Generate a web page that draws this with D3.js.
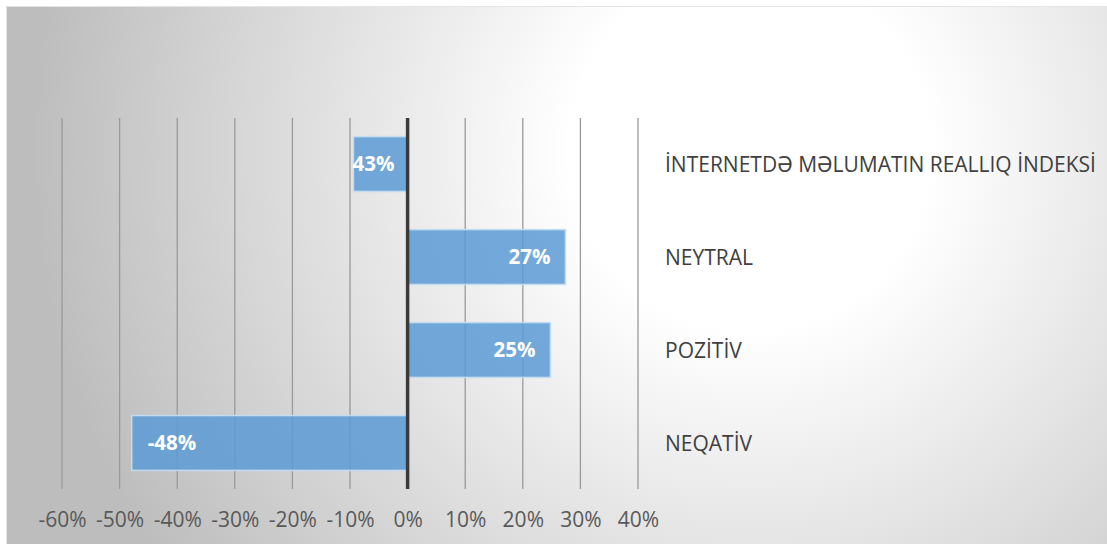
<!DOCTYPE html>
<html><head><meta charset="utf-8">
<script src="https://cdn.jsdelivr.net/npm/d3@7"></script>
<style>body{margin:0;background:#fff}svg{display:block}</style>
</head><body>
<script>
const categories = ["İNTERNETDƏ MƏLUMATIN REALLIQ İNDEKSİ", "NEYTRAL", "POZİTİV", "NEQATİV"];
const values = [-9.4, 27.4, 24.8, -47.9];
const valueLabels = ["43%", "27%", "25%", "-48%"];
const ticks = [-60, -50, -40, -30, -20, -10, 0, 10, 20, 30, 40];

const W = 1107, H = 544;
const svg = d3.select("body").append("svg").attr("width", W).attr("height", H);
const defs = svg.append("defs");
const rg = defs.append("radialGradient").attr("id", "bg").attr("gradientUnits", "userSpaceOnUse")
  .attr("cx", 750).attr("cy", 150).attr("r", 720);
rg.append("stop").attr("offset", 0).attr("stop-color", "#ffffff");
rg.append("stop").attr("offset", 0.25).attr("stop-color", "#ffffff");
rg.append("stop").attr("offset", 1).attr("stop-color", "#bdbdbd");

svg.append("rect").attr("x", 6).attr("y", 6).attr("width", W - 6).attr("height", H - 6).attr("fill", "url(#bg)");
svg.append("path").attr("d", `M6.5,${H} V6.5 H${W}`).attr("fill", "none").attr("stroke", "#e4e4e4").attr("stroke-width", 1);

const x = d3.scaleLinear().domain([-60, 40]).range([62, 638]);
const y = d3.scaleBand().domain(categories).range([118, 489]).paddingInner(0.41).paddingOuter(0.2);

// gridlines
svg.append("g").selectAll("line").data(ticks.filter(t => t !== 0)).join("line")
  .attr("x1", d => x(d)).attr("x2", d => x(d)).attr("y1", 118).attr("y2", 489)
  .attr("stroke", "#9a9a9a").attr("stroke-width", 1.3);

// bars
svg.append("g").selectAll("rect").data(categories).join("rect")
  .attr("x", (d, i) => Math.min(x(0), x(values[i])))
  .attr("width", (d, i) => Math.abs(x(values[i]) - x(0)))
  .attr("y", d => y(d)).attr("height", y.bandwidth())
  .attr("fill", "#5b9bd5").attr("fill-opacity", 0.85)
  .attr("stroke", "#c5dcf0").attr("stroke-width", 1.5);

// zero axis
svg.append("line").attr("x1", x(0)).attr("x2", x(0)).attr("y1", 118).attr("y2", 489)
  .attr("stroke", "#3a3a3a").attr("stroke-width", 3.5);

// value labels
const font = "'Open Sans', 'Noto Sans', sans-serif";
svg.append("g").selectAll("text").data(categories).join("text")
  .attr("x", (d, i) => values[i] < 0 ? x(values[i]) + (i === 0 ? -1 : 16) : x(values[i]) - 15)
  .attr("y", d => y(d) + y.bandwidth() / 2)
  .attr("dy", "0.36em")
  .attr("text-anchor", (d, i) => values[i] < 0 ? "start" : "end")
  .attr("fill", "#ffffff").attr("font-weight", "bold").attr("font-size", 20.5)
  .attr("font-family", font)
  .text((d, i) => valueLabels[i]);

// category labels
svg.append("g").selectAll("text").data(categories).join("text")
  .attr("x", 665).attr("y", d => y(d) + y.bandwidth() / 2).attr("dy", "0.36em")
  .attr("fill", "#404040").attr("font-size", 21).attr("font-family", font)
  .text(d => d);

// x axis tick labels
const axis = d3.axisBottom(x).tickValues(ticks).tickFormat(d => d + "%").tickSize(0);
const ag = svg.append("g").attr("transform", "translate(0,509)").call(axis);
ag.select(".domain").remove();
ag.selectAll("text").attr("font-size", 21).attr("font-family", font).attr("fill", "#595959");
</script>
</body></html>
